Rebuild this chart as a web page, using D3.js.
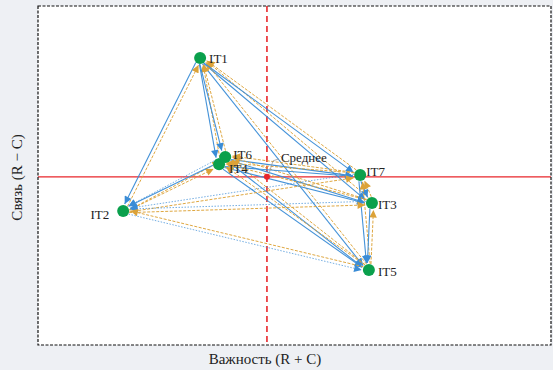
<!DOCTYPE html>
<html>
<head>
<meta charset="utf-8">
<script src="https://cdn.jsdelivr.net/npm/d3@7/dist/d3.min.js"></script>
<style>
  html, body { margin: 0; padding: 0; background: #eef0f4; }
  svg { display: block; }
  text { font-family: "Liberation Serif", "DejaVu Serif", serif; fill: #222; }
</style>
</head>
<body>
<svg id="chart" width="553" height="370"></svg>
<script>
// Factors of the DEMATEL influence map
const names = ["IT1", "IT2", "IT3", "IT4", "IT5", "IT6", "IT7"];
// Prominence (R + C)
const rPlusC = [3.16, 1.66, 6.51, 3.53, 6.45, 3.65, 6.28];
// Relation (R - C)
const rMinusC = [1.04, -0.314, -0.243, 0.10, -0.836, 0.164, 0.004];

// Influence pairs: [stronger cause, affected factor, line style of the cause arrow]
const links = [
  ["IT1", "IT2", "solid"], ["IT1", "IT3", "solid"], ["IT1", "IT4", "solid"],
  ["IT1", "IT5", "solid"], ["IT1", "IT6", "solid"], ["IT1", "IT7", "solid"],
  ["IT6", "IT4", "solid"], ["IT6", "IT7", "solid"], ["IT6", "IT3", "solid"],
  ["IT6", "IT5", "solid"], ["IT6", "IT2", "dotted"], ["IT4", "IT7", "solid"],
  ["IT4", "IT3", "solid"], ["IT4", "IT5", "solid"], ["IT4", "IT2", "solid"],
  ["IT7", "IT3", "solid"], ["IT7", "IT5", "solid"], ["IT7", "IT2", "dotted"],
  ["IT3", "IT5", "solid"], ["IT3", "IT2", "dotted"], ["IT2", "IT5", "dotted"]
];

const xTitle = "Важность (R + C)";
const yTitle = "Связь (R − C)";
const meanLabel = "Среднее";

const svg = d3.select("#chart");
const box = { left: 38, right: 551, top: 6, bottom: 345 };

const x = d3.scaleLinear().domain([0, 10]).range([box.left, box.right]);
const y = d3.scaleLinear().domain([-1.5, 1.5]).range([box.bottom, box.top]);

const nodes = names.map((n, i) => ({ name: n, px: x(rPlusC[i]), py: y(rMinusC[i]) }));
const byName = new Map(nodes.map(d => [d.name, d]));

const meanX = d3.mean(rPlusC), meanY = d3.mean(rMinusC);

// Plot area
svg.append("rect")
  .attr("x", box.left).attr("y", box.top)
  .attr("width", box.right - box.left).attr("height", box.bottom - box.top)
  .attr("fill", "#fff");

const blue = "#3a8cd6", orange = "#dca238", red = "#e8262b";

// Arrowhead markers
const defs = svg.append("defs");
[["arrow-blue", blue], ["arrow-orange", orange]].forEach(([id, c]) => {
  defs.append("marker")
    .attr("id", id)
    .attr("viewBox", "0 0 10 10")
    .attr("refX", 10).attr("refY", 5)
    .attr("markerWidth", 8.5).attr("markerHeight", 7.5)
    .attr("markerUnits", "userSpaceOnUse")
    .attr("orient", "auto")
    .append("path").attr("d", "M0,0L10,5L0,10Z").attr("fill", c);
});

// Mean reference lines
svg.append("line")
  .attr("x1", box.left).attr("x2", box.right)
  .attr("y1", y(meanY)).attr("y2", y(meanY))
  .attr("stroke", red).attr("stroke-width", 1.3);
svg.append("line")
  .attr("x1", x(meanX)).attr("x2", x(meanX))
  .attr("y1", box.top).attr("y2", box.bottom)
  .attr("stroke", red).attr("stroke-width", 1.6)
  .attr("stroke-dasharray", "6,4");

// Influence arrows: blue from cause to effect, orange back
const r = 6;
function segment(a, b, off) {
  const dx = b.px - a.px, dy = b.py - a.py;
  const len = Math.hypot(dx, dy);
  const ux = dx / len, uy = dy / len;
  const nx = -uy * off, ny = ux * off;
  return {
    x1: a.px + ux * r + nx, y1: a.py + uy * r + ny,
    x2: b.px - ux * (r + 1) + nx, y2: b.py - uy * (r + 1) + ny
  };
}

const arrows = [];
links.forEach(([s, t, style]) => {
  const a = byName.get(s), b = byName.get(t);
  arrows.push({ seg: segment(b, a, 1.8), kind: "orange" });
  arrows.push({ seg: segment(a, b, 1.8), kind: style === "solid" ? "blue" : "blueDot" });
});

const g = svg.append("g");
g.selectAll("line.arrow")
  .data(arrows)
  .join("line")
  .attr("class", "arrow")
  .attr("x1", d => d.seg.x1).attr("y1", d => d.seg.y1)
  .attr("x2", d => d.seg.x2).attr("y2", d => d.seg.y2)
  .attr("stroke", d => d.kind === "orange" ? orange : blue)
  .attr("stroke-width", d => d.kind === "blue" ? 1.1 : 1)
  .attr("stroke-opacity", d => d.kind === "blueDot" ? 0.7 : 0.95)
  .attr("stroke-dasharray", d => d.kind === "orange" ? "3,1.5" : d.kind === "blueDot" ? "1.5,1.5" : null)
  .attr("marker-end", d => d.kind === "orange" ? "url(#arrow-orange)" : "url(#arrow-blue)");

// Mean marker and its label
svg.append("circle")
  .attr("cx", x(meanX)).attr("cy", y(meanY)).attr("r", 3)
  .attr("fill", red);
svg.append("polyline")
  .attr("points", [[x(meanX) + 2, y(meanY) - 3], [x(meanX) + 6, y(meanY) - 16], [x(meanX) + 12, y(meanY) - 18]].join(" "))
  .attr("fill", "none").attr("stroke", "#999").attr("stroke-width", 0.8);
svg.append("text")
  .attr("x", x(meanX) + 14).attr("y", y(meanY) - 15)
  .attr("font-size", 13)
  .text(meanLabel);

// Factor nodes
svg.selectAll("circle.node")
  .data(nodes)
  .join("circle")
  .attr("class", "node")
  .attr("cx", d => d.px).attr("cy", d => d.py).attr("r", r)
  .attr("fill", "#0aa04c");

const labelPos = {
  IT1: [9, 5, "start"], IT2: [-14, 8, "end"], IT3: [6, 6, "start"],
  IT4: [10, 9, "start"], IT5: [9, 6, "start"], IT6: [8, 2, "start"], IT7: [6, 1, "start"]
};
svg.selectAll("text.node-label")
  .data(nodes)
  .join("text")
  .attr("class", "node-label")
  .attr("x", d => d.px + labelPos[d.name][0])
  .attr("y", d => d.py + labelPos[d.name][1])
  .attr("text-anchor", d => labelPos[d.name][2])
  .attr("font-size", 13)
  .text(d => d.name);

// Frame
svg.append("rect")
  .attr("x", box.left).attr("y", box.top)
  .attr("width", box.right - box.left).attr("height", box.bottom - box.top)
  .attr("fill", "none").attr("stroke", "#111").attr("stroke-width", 1.2)
  .attr("stroke-dasharray", "3,1.5");

// Axis titles
svg.append("text")
  .attr("x", 265).attr("y", 364)
  .attr("text-anchor", "middle").attr("font-size", 15)
  .text(xTitle);
svg.append("text")
  .attr("transform", `translate(22,${(box.top + box.bottom) / 2 + 2}) rotate(-90)`)
  .attr("text-anchor", "middle").attr("font-size", 15)
  .text(yTitle);
</script>
</body>
</html>
